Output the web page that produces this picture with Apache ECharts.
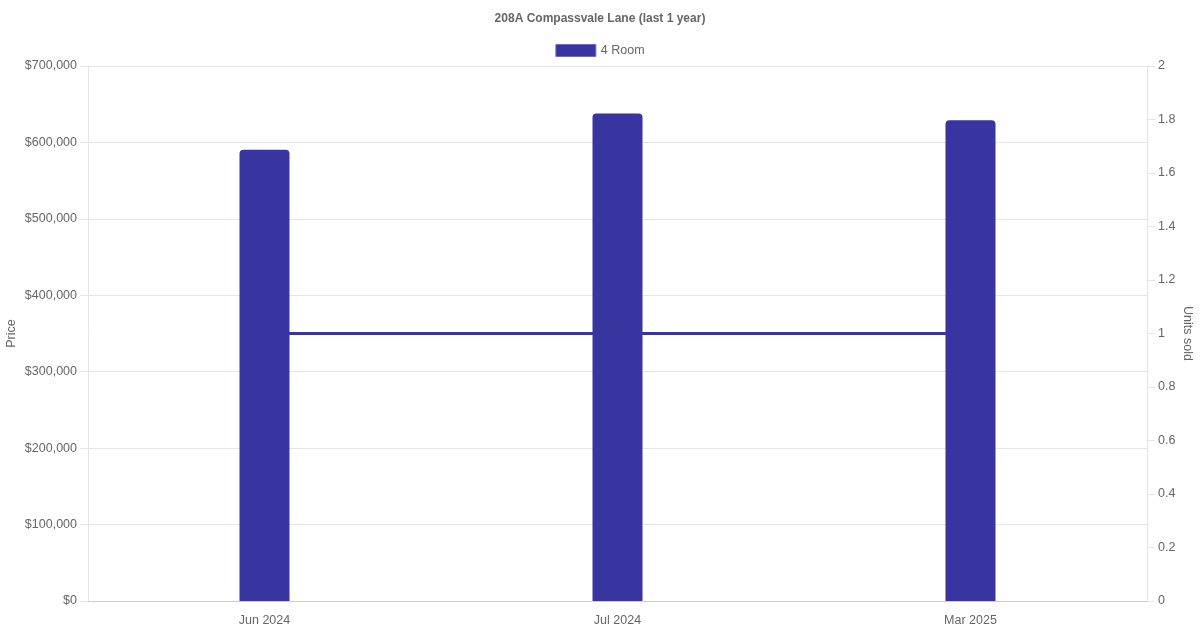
<!DOCTYPE html>
<html>
<head>
<meta charset="utf-8">
<script src="https://cdn.jsdelivr.net/npm/echarts@6/dist/echarts.min.js"></script>
<style>html,body{margin:0;padding:0;background:#fff}#c{width:1200px;height:630px}</style>
</head>
<body>
<div id="c"></div>
<script>
var categories = ['Jun 2024', 'Jul 2024', 'Mar 2025'];
var prices = [590500, 638000, 629000];
var unitsSold = [1, 1, 1];
var seriesName = '4 Room';
var titleText = '208A Compassvale Lane (last 1 year)';

var color = '#3834a0';
var font = 'Liberation Sans, Arial, sans-serif';
var chart = echarts.init(document.getElementById('c'));
chart.setOption({
  animation: false,
  textStyle: { fontFamily: font },
  title: {
    text: titleText, left: 'center', top: 8,
    textStyle: { fontSize: 12, fontWeight: 'bold', color: '#666', fontFamily: font }
  },
  legend: {
    top: 39, left: 'center', itemWidth: 40, itemHeight: 12, itemGap: 6,
    icon: 'rect',
    data: [{ name: seriesName, itemStyle: { color: color, borderColor: '#6f6bc0', borderWidth: 1 } }],
    textStyle: { fontSize: 12.5, color: '#666', fontFamily: font }
  },
  grid: { left: 88, right: 53, top: 66, bottom: 29, containLabel: false, outerBoundsMode: 'none' },
  xAxis: {
    type: 'category', data: categories,
    axisLine: { show: true, lineStyle: { color: '#ccc' } },
    axisTick: { show: false },
    axisLabel: { color: '#666', fontSize: 12.5, margin: 13, fontFamily: font },
    splitLine: { show: false }
  },
  yAxis: [{
    type: 'value', min: 0, max: 700000, interval: 100000,
    name: 'Price', nameLocation: 'middle', nameGap: 70, nameMoveOverlap: false,
    nameTextStyle: { color: '#666', fontSize: 12.5, fontFamily: font },
    axisLine: { show: true, lineStyle: { color: '#e5e5e5' } },
    axisTick: { show: true, length: 8, lineStyle: { color: '#e5e5e5' } },
    axisLabel: { color: '#666', fontSize: 12.5, margin: 11, fontFamily: font,
      formatter: function (v) { return '$' + v.toLocaleString('en-US'); } },
    splitLine: { show: true, lineStyle: { color: '#e5e5e5' } }
  }, {
    type: 'value', min: 0, max: 2, interval: 0.2, position: 'right',
    name: 'Units sold', nameLocation: 'middle', nameGap: 34, nameRotate: -90, nameMoveOverlap: false,
    nameTextStyle: { color: '#666', fontSize: 12.5, fontFamily: font },
    axisLine: { show: true, lineStyle: { color: '#e5e5e5' } },
    axisTick: { show: true, length: 8, lineStyle: { color: '#e5e5e5' } },
    axisLabel: { color: '#666', fontSize: 12.5, margin: 11, fontFamily: font,
      formatter: function (v) { return String(Math.round(v * 10) / 10); } },
    splitLine: { show: false }
  }],
  series: [{
    name: seriesName, type: 'bar', data: prices, barWidth: 50, z: 3,
    itemStyle: { color: color, borderRadius: [4, 4, 0, 0] }
  }, {
    name: seriesName, type: 'line', yAxisIndex: 1, data: unitsSold, z: 1,
    showSymbol: false, symbol: 'none',
    lineStyle: { color: color, width: 3 }, itemStyle: { color: color }
  }]
});
</script>
</body>
</html>
